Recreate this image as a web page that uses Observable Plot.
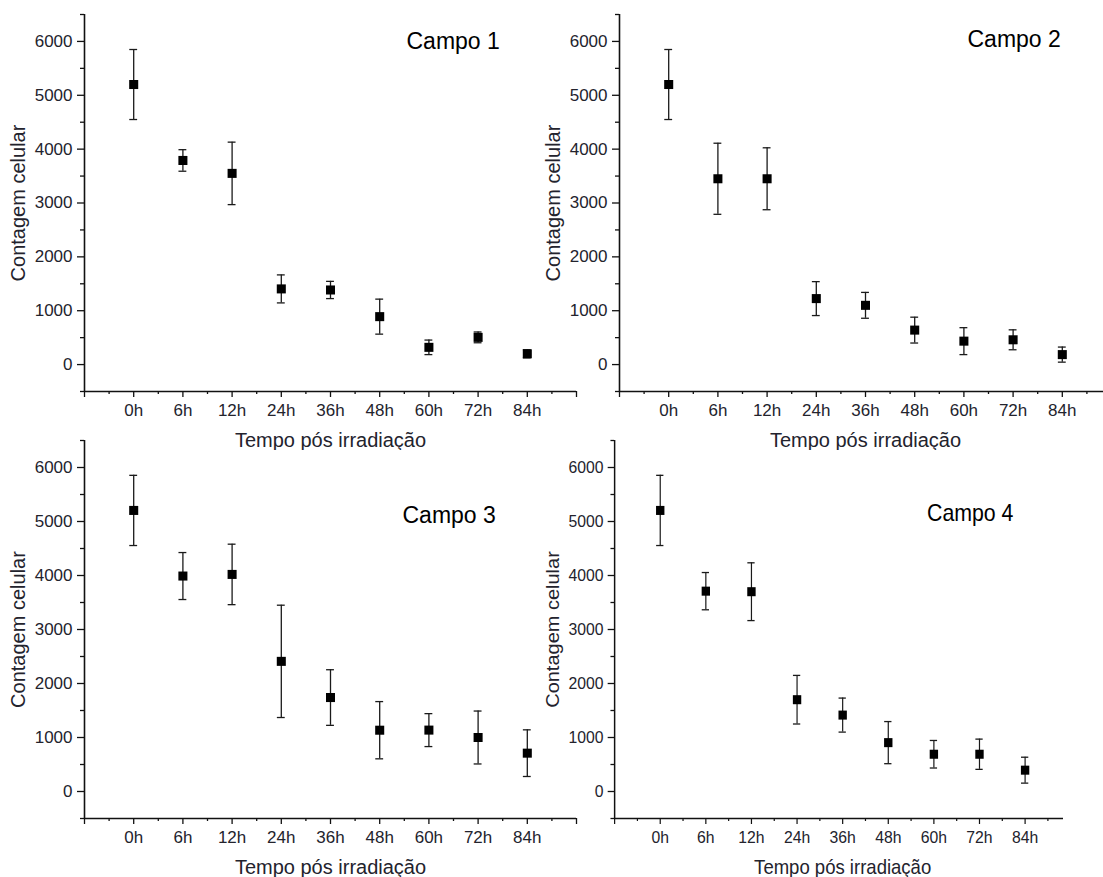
<!DOCTYPE html>
<html>
<head>
<meta charset="utf-8">
<script src="https://cdn.jsdelivr.net/npm/d3@7"></script>
<script src="https://cdn.jsdelivr.net/npm/@observablehq/plot@0.6"></script>
<style>
  html, body { margin: 0; padding: 0; background: #fff; overflow: hidden; }
  #wrap { position: relative; width: 1103px; height: 877px; overflow: hidden; background: #fff; }
  .panel { position: absolute; overflow: hidden; }
  .panel svg { display: block; max-width: none; }
</style>
</head>
<body>
<div id="wrap"></div>
<script>
// ---- Data ----
const timeLabels = ["0h", "6h", "12h", "24h", "36h", "48h", "60h", "72h", "84h"];

const campo1Mean = [5200, 3790, 3550, 1405, 1385, 890, 320, 505, 200];
const campo1Err  = [650, 200, 580, 260, 160, 325, 135, 100, 75];

const campo2Mean = [5200, 3450, 3450, 1225, 1100, 640, 435, 460, 185];
const campo2Err  = [650, 660, 575, 315, 240, 240, 250, 185, 140];

const campo3Mean = [5205, 3990, 4020, 2410, 1740, 1135, 1137, 1000, 710];
const campo3Err  = [650, 435, 560, 1040, 515, 530, 305, 490, 432];

const campo4Mean = [5205, 3710, 3700, 1700, 1415, 905, 690, 690, 395];
const campo4Err  = [650, 345, 535, 450, 315, 390, 255, 280, 240];

const panelTitles = ["Campo 1", "Campo 2", "Campo 3", "Campo 4"];
const yMajorTicks = [0, 1000, 2000, 3000, 4000, 5000, 6000];
const yMinorTicks = [-500, 500, 1500, 2500, 3500, 4500, 5500, 6500];
const xLabel = "Tempo pós irradiação";
const yLabel = "Contagem celular";

// ---- Helpers ----
const FONT = "'Liberation Sans', Arial, Helvetica, sans-serif";
const xMajorTicks = d3.range(-1, 10);
const xMinorTicks = d3.range(-0.5, 9, 1);

function rows(mean, err) {
  return mean.map((m, i) => ({i, label: timeLabels[i], mean: m, lo: m - err[i], hi: m + err[i]}));
}

function makePanel({mean, err, title, marginLeft, width, height, titleDx, titleDy}) {
  const data = rows(mean, err);
  return Plot.plot({
    width, height,
    marginLeft, marginRight: width - marginLeft - 492,
    marginTop: 14, marginBottom: height - 14 - 377 - (height - 450),
    style: {fontFamily: FONT, background: "transparent", overflow: "visible", color: "#222"},
    x: {domain: [-1, 9], axis: null},
    y: {domain: [-500, 6500], axis: null},
    marks: [
      // axis lines
      Plot.ruleX([-1], {stroke: "#111", strokeWidth: 1.6}),
      Plot.ruleY([-500], {stroke: "#111", strokeWidth: 1.6}),
      // y ticks
      Plot.axisY({ticks: yMajorTicks, tickSize: 7, tickPadding: 5, tickFormat: d => String(d),
        fontSize: 17, label: null, stroke: "#111", strokeWidth: 1.3, fill: "#23232d"}),
      Plot.axisY({ticks: yMinorTicks, tickSize: 4, tickFormat: () => "", label: null, stroke: "#111", strokeWidth: 1.3}),
      // x ticks
      Plot.axisX({ticks: xMajorTicks, tickSize: 6, tickPadding: 6, tickFormat: i => timeLabels[i] ?? "",
        fontSize: 17, label: null, stroke: "#111", strokeWidth: 1.3, fill: "#23232d"}),
      Plot.axisX({ticks: xMinorTicks, tickSize: 3, tickFormat: () => "", label: null, stroke: "#111", strokeWidth: 1.3}),
      // axis titles
      Plot.text([yLabel], {frameAnchor: "left", dx: -66, rotate: -90, textAnchor: "middle", lineAnchor: "middle",
        fontSize: 20, fill: "#23232d"}),
      Plot.text([xLabel], {frameAnchor: "bottom", dy: 49, textAnchor: "middle", lineAnchor: "middle",
        fontSize: 20, fill: "#23232d"}),
      // panel title
      Plot.text([title], {frameAnchor: "top-left", dx: titleDx, dy: titleDy, textAnchor: "start", lineAnchor: "middle",
        fontSize: 23, fill: "#000"}),
      // error bars
      Plot.ruleX(data, {x: "i", y1: "lo", y2: "hi", stroke: "#1a1a1a", strokeWidth: 1.3}),
      Plot.ruleY(data, {y: "lo", x1: d => d.i - 0.08, x2: d => d.i + 0.08, stroke: "#1a1a1a", strokeWidth: 1.3}),
      Plot.ruleY(data, {y: "hi", x1: d => d.i - 0.08, x2: d => d.i + 0.08, stroke: "#1a1a1a", strokeWidth: 1.3}),
      // points
      Plot.dot(data, {x: "i", y: "mean", symbol: "square", r: 5.1, fill: "#000", stroke: "none"})
    ]
  });
}

const wrap = document.getElementById("wrap");
function place(svg, {left, top, w, h, scaleX}) {
  const div = document.createElement("div");
  div.className = "panel";
  div.style.left = left + "px";
  div.style.top = top + "px";
  div.style.width = w + "px";
  div.style.height = h + "px";
  if (scaleX) {
    svg.style.transformOrigin = "0 0";
    svg.style.transform = `scaleX(${scaleX})`;
  }
  div.appendChild(svg);
  wrap.appendChild(div);
}

// Panel 1
place(makePanel({mean: campo1Mean, err: campo1Err, title: panelTitles[0], marginLeft: 84, width: 600, height: 450, titleDx: 322, titleDy: 27}),
  {left: 0, top: 0, w: 600, h: 450});
// Panel 2
place(makePanel({mean: campo2Mean, err: campo2Err, title: panelTitles[1], marginLeft: 79, width: 600, height: 450, titleDx: 348, titleDy: 25}),
  {left: 540, top: 0, w: 563, h: 450});
// Panel 3
place(makePanel({mean: campo3Mean, err: campo3Err, title: panelTitles[2], marginLeft: 84, width: 600, height: 451, titleDx: 318, titleDy: 75}),
  {left: 0, top: 426, w: 600, h: 451});
// Panel 4 (horizontally compressed as in the reference)
place(makePanel({mean: campo4Mean, err: campo4Err, title: panelTitles[3], marginLeft: 80, width: 600, height: 451, titleDx: 337, titleDy: 73}),
  {left: 540, top: 426, w: 523, h: 451, scaleX: 0.927});
</script>
</body>
</html>
